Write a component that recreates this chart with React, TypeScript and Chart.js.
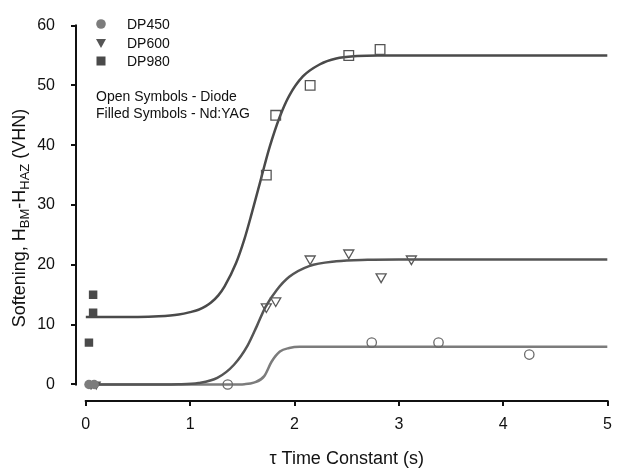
import React, { useEffect, useRef } from 'react';
import { Chart, registerables } from 'chart.js';

Chart.register(...registerables);

const FONT = '"Liberation Sans", Arial, sans-serif';

// Fitted curves
const curve980X = [0, 0.5, 0.7, 0.89, 1.0, 1.08, 1.15, 1.2, 1.27, 1.33, 1.44, 1.52, 1.59, 1.67, 1.76, 1.86, 1.95, 2.08, 2.24, 2.4, 2.6, 2.8, 3.2, 4, 5];
const curve980Y = [11.3, 11.3, 11.4, 11.7, 12.1, 12.5, 13.1, 13.7, 14.9, 16.4, 20.3, 24.3, 28.6, 33.8, 39.6, 44.8, 48.3, 51.5, 53.5, 54.5, 54.9, 55, 55, 55, 55];
const curve600X = [0, 0.5, 0.89, 1.08, 1.26, 1.42, 1.55, 1.64, 1.72, 1.83, 1.95, 2.14, 2.4, 2.7, 3, 4, 5];
const curve600Y = [0, 0, 0.05, 0.25, 1.1, 3.3, 6.5, 9.8, 12.9, 15.8, 18.0, 19.8, 20.6, 20.85, 20.9, 20.9, 20.9];
const curve450X = [0, 1, 1.4, 1.52, 1.61, 1.71, 1.78, 1.86, 1.95, 2.05, 2.3, 3, 4, 5];
const curve450Y = [0, 0, 0, 0.05, 0.3, 1.4, 3.8, 5.5, 6.1, 6.3, 6.3, 6.3, 6.3, 6.3];

// Open symbols - Diode
const diode450X = [1.36, 2.74, 3.38, 4.25];
const diode450Y = [0, 7, 7, 5];
const diode600X = [1.73, 1.82, 2.15, 2.52, 2.83, 3.12];
const diode600Y = [13, 14, 21, 22, 18, 21];
const diode980X = [1.73, 1.82, 2.15, 2.52, 2.82];
const diode980Y = [35, 45, 50, 55, 56];

// Filled symbols - Nd:YAG
const yag450X = [0.03, 0.08];
const yag450Y = [0, 0];
const yag600X = [0.05, 0.1];
const yag600Y = [0, 0];
const yag980X = [0.03, 0.07, 0.07];
const yag980Y = [7, 12, 15];

const seriesNames = ['DP450', 'DP600', 'DP980'];
const noteLines = ['Open Symbols - Diode', 'Filled Symbols - Nd:YAG'];
const xTitle = 'τ Time Constant (s)';

const pts = (xs: number[], ys: number[]) => xs.map((x, i) => ({ x, y: ys[i] }));

const C450 = '#7c7c7c';
const C600 = '#555555';
const C980 = '#4a4a4a';

const overlay = {
  id: 'overlay',
  afterDraw(chart: any) {
    const ctx = chart.ctx as CanvasRenderingContext2D;
    const xs = chart.scales.x;
    const ys = chart.scales.y;
    const area = chart.chartArea;
    ctx.save();
    // axis lines
    ctx.strokeStyle = '#111';
    ctx.lineWidth = 2;
    ctx.beginPath();
    ctx.moveTo(area.left, ys.getPixelForValue(60) - 1);
    ctx.lineTo(area.left, ys.getPixelForValue(0) + 1);
    ctx.moveTo(xs.getPixelForValue(0) - 1, area.bottom);
    ctx.lineTo(xs.getPixelForValue(5) + 1, area.bottom);
    ctx.stroke();

    // legend
    const lx = 101;
    const ly = [24, 43, 61];
    ctx.fillStyle = C450;
    ctx.beginPath();
    ctx.arc(lx, ly[0], 4.8, 0, Math.PI * 2);
    ctx.fill();
    ctx.fillStyle = C600;
    ctx.beginPath();
    ctx.moveTo(lx - 5, ly[1] - 4);
    ctx.lineTo(lx + 5, ly[1] - 4);
    ctx.lineTo(lx, ly[1] + 5);
    ctx.closePath();
    ctx.fill();
    ctx.fillStyle = C980;
    ctx.fillRect(lx - 4.5, ly[2] - 4.5, 9, 9);

    ctx.fillStyle = '#111';
    ctx.font = `14px ${FONT}`;
    ctx.textBaseline = 'middle';
    ctx.textAlign = 'left';
    seriesNames.forEach((n, i) => ctx.fillText(n, 127, ly[i] + 1));
    ctx.fillText(noteLines[0], 96, 97);
    ctx.fillText(noteLines[1], 96, 114);

    // x title
    ctx.font = `18px ${FONT}`;
    ctx.textAlign = 'center';
    ctx.fillText(xTitle, (xs.getPixelForValue(0) + xs.getPixelForValue(5)) / 2, 459);

    // y title with subscripts
    const big = `18px ${FONT}`;
    const small = `13px ${FONT}`;
    const parts: [string, boolean][] = [
      ['Softening, H', false],
      ['BM', true],
      ['-H', false],
      ['HAZ', true],
      [' (VHN)', false],
    ];
    let total = 0;
    parts.forEach(([t, s]) => {
      ctx.font = s ? small : big;
      total += ctx.measureText(t).width;
    });
    ctx.translate(19, 218);
    ctx.rotate(-Math.PI / 2);
    ctx.textAlign = 'left';
    ctx.textBaseline = 'alphabetic';
    let cx = -total / 2;
    parts.forEach(([t, s]) => {
      ctx.font = s ? small : big;
      ctx.fillText(t, cx, s ? 10 : 6);
      cx += ctx.measureText(t).width;
    });
    ctx.restore();
  },
};

export default function App() {
  const ref = useRef<HTMLCanvasElement>(null);
  useEffect(() => {
    document.body.style.margin = '0';
    const curve = (xs: number[], ys: number[], color: string) => ({
      data: pts(xs, ys),
      borderColor: color,
      borderWidth: 2.5,
      pointRadius: 0,
      fill: false,
      cubicInterpolationMode: 'monotone',
      order: 10,
    });
    const marks = (xs: number[], ys: number[], style: string, r: number, color: string, filled: boolean, rot = 0) => ({
      data: pts(xs, ys),
      showLine: false,
      pointStyle: style,
      pointRadius: r,
      pointRotation: rot,
      pointBorderWidth: filled ? 0 : 1.3,
      pointBorderColor: color,
      pointBackgroundColor: filled ? color : 'rgba(0,0,0,0)',
      borderColor: color,
      order: 1,
    });
    const chart = new Chart(ref.current!, {
      type: 'line',
      data: {
        datasets: [
          curve(curve980X, curve980Y, C980),
          curve(curve600X, curve600Y, C600),
          curve(curve450X, curve450Y, C450),
          marks(diode450X, diode450Y, 'circle', 4.7, '#6a6a6a', false),
          marks(diode600X, diode600Y, 'triangle', 5.8, '#5a5a5a', false, 180),
          marks(diode980X, diode980Y, 'rect', 6.8, '#555555', false),
          marks(yag450X, yag450Y, 'circle', 4.7, C450, true),
          marks(yag600X, yag600Y, 'triangle', 5.8, C600, true, 180),
          marks(yag980X, yag980Y, 'rect', 6, C980, true),
        ] as any,
      },
      options: {
        responsive: false,
        animation: false,
        layout: { padding: { top: 14, right: 5, left: 0, bottom: 0 } },
        plugins: { legend: { display: false }, tooltip: { enabled: false } },
        scales: {
          x: {
            type: 'linear',
            min: -0.094,
            max: 5,
            afterFit: (s: any) => { s.height = 70; },
            ticks: { stepSize: 1, includeBounds: false, autoSkip: false, maxRotation: 0, padding: 9, color: '#111', font: { size: 16, family: FONT } },
            grid: { drawOnChartArea: false, drawTicks: true, tickLength: 5, color: '#111', lineWidth: 2 },
            border: { display: false },
          },
          y: {
            type: 'linear',
            min: -2.76,
            max: 60,
            afterFit: (s: any) => { s.width = 76; },
            ticks: { stepSize: 10, includeBounds: false, padding: 16, color: '#111', font: { size: 16, family: FONT } },
            grid: { drawOnChartArea: false, drawTicks: true, tickLength: 5, color: '#111', lineWidth: 2 },
            border: { display: false },
          },
        },
      } as any,
      plugins: [overlay],
    });
    return () => chart.destroy();
  }, []);
  return <canvas ref={ref} width={621} height={471} style={{ display: 'block' }} />;
}
